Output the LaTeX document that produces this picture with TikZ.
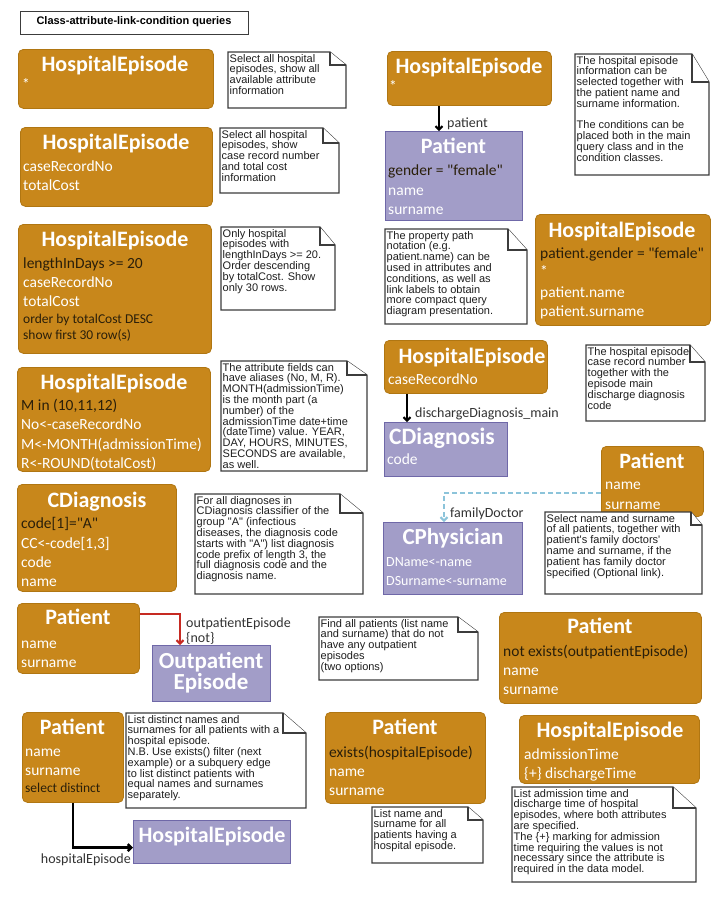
\documentclass[tikz,border=0pt]{standalone}
\usepackage{fontspec}
\setmainfont{Carlito}[Ligatures=TeXOff]
\newfontfamily\notefont{Liberation Sans}[Ligatures=TeXOff]
\usetikzlibrary{arrows.meta}
\definecolor{ofill}{HTML}{C8871B}
\definecolor{obord}{HTML}{B07612}
\definecolor{pfill}{HTML}{A29DC8}
\definecolor{pbord}{HTML}{6F68A8}
\definecolor{dtext}{HTML}{2A1F0A}
\definecolor{ntext}{HTML}{1E1E1E}
\definecolor{ngray}{HTML}{3C3C3C}
\definecolor{ltext}{HTML}{333333}
\definecolor{redl}{HTML}{C62A22}
\definecolor{bluel}{HTML}{8CC4DA}
\tikzset{
 ob/.style={draw=obord, fill=ofill, rounded corners=5pt, line width=0.8pt},
 pb/.style={draw=pbord, fill=pfill, line width=1.2pt},
 ttl/.style={inner sep=0pt, anchor=mid, yshift=-4.5pt, text=white, font=\fontsize{22}{22}\selectfont\bfseries},
 attr/.style={inner sep=0pt, anchor=mid west, yshift=-4pt, text=white, font=\fontsize{15.5}{16}\selectfont},
 cond/.style={attr, text=dtext},
 sm/.style={inner sep=0pt, anchor=mid west, yshift=-3.5pt, text=dtext, font=\fontsize{13.5}{14}\selectfont},
 lbl/.style={inner sep=0pt, anchor=mid west, yshift=-3pt, text=ltext, font=\fontsize{14}{14}\selectfont},
 notel/.style={draw=ngray, line width=1.1pt, fill=white, line join=miter},
 notetext/.style={inner sep=0pt, anchor=north west, align=left, text=ntext, font=\notefont\fontsize{11}{10.8}\selectfont},
 blk/.style={line width=2pt, draw=black, -{Straight Barb[length=3.5pt,width=7pt]}},
}
\newcommand\qbox[6]{\node[#1, anchor=north west, minimum width={#5-#3}, minimum height={#6-#4}, inner sep=0pt] (#2) at (#3,#4) {};}
\newcommand\qnote[8]{%
 \draw[notel] (#2,#3) -- ({#4-#6},#3) -- (#4,{#3+#7}) -- (#4,#5) -- (#2,#5) -- cycle;
 \draw[notel] ({#4-#6},#3) -- ({#4-#6},{#3+#7}) -- (#4,{#3+#7});
 \node[notetext] (#1) at ({#2+1.5},{#3+2}) {#8};}
\begin{document}
\begin{tikzpicture}[x=1pt,y=-1pt]
\fill[white] (0,0) rectangle (723,898);
\useasboundingbox (0,0) rectangle (723,898);
% title
\node[draw=ngray, line width=1.2pt, anchor=north west, minimum width=228, minimum height=23, inner sep=0pt] (tbox) at (20,11) {};
\node[inner sep=0pt, anchor=mid, yshift=-1pt, font=\notefont\bfseries\fontsize{11}{11}\selectfont] (ttext) at (134,21) {Class-attribute-link-condition queries};
% boxes
\qbox{ob}{b1}{18}{49}{213}{108}
\qbox{ob}{b2}{20}{127}{212}{206}
\qbox{ob}{b3}{18}{224}{211}{353}
\qbox{ob}{b4}{17}{367}{210}{471}
\qbox{ob}{b5}{17}{484}{176}{591}
\qbox{ob}{b6}{17}{603}{139}{673}
\qbox{pb}{op}{152}{645}{270}{701}
\qbox{ob}{b7}{499}{612}{701}{703}
\qbox{ob}{b8}{22}{712}{123}{802}
\qbox{pb}{he}{133}{820}{290}{863}
\qbox{ob}{b9}{325}{712}{485}{803}
\qbox{ob}{b10}{519}{715}{699}{783}
\qbox{ob}{r1}{387}{51}{551}{105}
\qbox{pb}{pat}{385}{131}{522}{220}
\qbox{ob}{r2}{535}{214}{710}{325}
\qbox{ob}{r3}{384}{340}{547}{393}
\qbox{pb}{cdg}{384}{422}{507}{476}
\qbox{ob}{r4}{601}{446}{703}{516}
\qbox{pb}{cph}{383}{522}{522}{594}
% box texts
\node[ttl] (b1t) at (115,65) {HospitalEpisode};
\node[attr] (b1a) at (22,83) {*};
\node[ttl] (b2t) at (116,143) {HospitalEpisode};
\node[attr] (b2a) at (23,165) {caseRecordNo};
\node[attr] (b2b) at (23,184) {totalCost};
\node[ttl] (b3t) at (115,240) {HospitalEpisode};
\node[cond] (b3a) at (23,262) {lengthInDays >= 20};
\node[attr] (b3b) at (23,281) {caseRecordNo};
\node[attr] (b3c) at (23,300) {totalCost};
\node[sm] (b3d) at (23,318) {order by totalCost DESC};
\node[sm] (b3e) at (23,334) {show first 30 row(s)};
\node[ttl] (b4t) at (114,383) {HospitalEpisode};
\node[cond] (b4a) at (21,404) {M in (10,11,12)};
\node[attr] (b4b) at (21,423) {No<-caseRecordNo};
\node[attr] (b4c) at (21,443) {M<-MONTH(admissionTime)};
\node[attr] (b4d) at (21,462) {R<-ROUND(totalCost)};
\node[ttl] (b5t) at (97,501) {CDiagnosis};
\node[cond] (b5a) at (21,522) {code[1]="A"};
\node[attr] (b5b) at (21,542) {CC<-code[1,3]};
\node[attr] (b5c) at (21,561) {code};
\node[attr] (b5d) at (21,580) {name};
\node[ttl] (b6t) at (78,618) {Patient};
\node[attr] (b6a) at (21,642) {name};
\node[attr] (b6b) at (21,661) {surname};
\node[ttl, font=\fontsize{23}{23}\selectfont\bfseries] (opt1) at (211,662) {Outpatient};
\node[ttl, font=\fontsize{23}{23}\selectfont\bfseries] (opt2) at (211,683) {Episode};
\node[ttl] (b7t) at (600,627) {Patient};
\node[cond] (b7a) at (503,650) {not exists(outpatientEpisode)};
\node[attr] (b7b) at (503,669) {name};
\node[attr] (b7c) at (503,688) {surname};
\node[ttl] (b8t) at (72.5,728) {Patient};
\node[attr] (b8a) at (25,750) {name};
\node[attr] (b8b) at (25,769) {surname};
\node[sm] (b8c) at (25,787) {select distinct};
\node[ttl] (het) at (212,836) {HospitalEpisode};
\node[ttl] (b9t) at (405,728) {Patient};
\node[cond] (b9a) at (329,751) {exists(hospitalEpisode)};
\node[attr] (b9b) at (329,770) {name};
\node[attr] (b9c) at (329,789) {surname};
\node[ttl] (b10t) at (610,731) {HospitalEpisode};
\node[attr] (b10a) at (524,753) {admissionTime};
\node[attr] (b10b) at (524,772) {\{+\} dischargeTime};
\node[ttl] (r1t) at (469,67) {HospitalEpisode};
\node[attr] (r1a) at (389,85) {*};
\node[ttl] (patt) at (453.5,147) {Patient};
\node[cond] (pata) at (388,169) {gender = "female"};
\node[attr] (patb) at (388,189) {name};
\node[attr] (patc) at (388,208) {surname};
\node[ttl] (r2t) at (622,231) {HospitalEpisode};
\node[cond] (r2a) at (540,252) {patient.gender = "female"};
\node[attr] (r2b) at (540,270) {*};
\node[attr] (r2c) at (540,291) {patient.name};
\node[attr] (r2d) at (540,310) {patient.surname};
\node[ttl] (r3t) at (472,357) {HospitalEpisode};
\node[attr] (r3a) at (388,378) {caseRecordNo};
\node[ttl, font=\fontsize{23.5}{24}\selectfont\bfseries] (cdgt) at (442,438) {CDiagnosis};
\node[attr] (cdga) at (387,458) {code};
\node[ttl] (r4t) at (652,462) {Patient};
\node[attr] (r4a) at (605,483) {name};
\node[attr] (r4b) at (605,503) {surname};
\node[ttl, font=\fontsize{23}{23}\selectfont\bfseries] (cpht) at (453,538) {CPhysician};
\node[attr, font=\fontsize{14}{14}\selectfont] (cpha) at (386,560) {DName<-name};
\node[attr, font=\fontsize{14}{14}\selectfont] (cphb) at (386,579) {DSurname<-surname};
% connectors
\draw[blk] ([xshift=52pt]r1.south west) -- ([xshift=54pt]pat.north west);
\node[lbl] (l1) at (447,122) {patient};
\draw[blk] ([xshift=23pt]r3.south west) -- ([xshift=23pt]cdg.north west);
\node[lbl] (l2) at (415,412) {dischargeDiagnosis\_main};
\draw[blk, draw=bluel, dash pattern=on 5pt off 3pt] ([yshift=-12pt]r4.west) -| ([xshift=61pt]cph.north west);
\node[lbl] (l3) at (450,512) {familyDoctor};
\draw[blk, draw=redl] ([yshift=24pt]b6.east) -| ([xshift=28pt]op.north west);
\node[lbl] (l4) at (186,622) {outpatientEpisode};
\node[lbl] (l5) at (186,637) {\{not\}};
\draw[blk, line width=2.5pt] (b8.south) |- ([yshift=-5.5pt]he.west);
\node[lbl, anchor=mid east] (l6) at (131,858) {hospitalEpisode};
% notes
\qnote{n1}{228}{52}{346}{108}{16}{13}{Select all hospital\\episodes, show all\\available attribute\\information}
\qnote{n2}{220}{128}{339}{193}{16}{15}{Select all hospital\\episodes, show\\case record number\\and total cost\\information}
\qnote{n3}{221}{227}{335}{310}{15}{18}{Only hospital\\episodes with\\lengthInDays >= 20.\\Order descending\\by totalCost. Show\\only 30 rows.}
\qnote{n4}{221}{361}{367}{471}{20}{14}{The attribute fields can\\have aliases (No, M, R).\\MONTH(admissionTime)\\is the month part (a\\number) of the\\admissionTime date+time\\(dateTime) value. YEAR,\\DAY, HOURS, MINUTES,\\SECONDS are available,\\as well.}
\qnote{n5}{195}{494}{363}{594}{23}{19}{For all diagnoses in\\CDiagnosis classifier of the\\group "A" (infectious\\diseases, the diagnosis code\\starts with "A") list diagnosis\\code prefix of length 3, the\\full diagnosis code and the\\diagnosis name.}
\qnote{n6}{319}{617}{478}{680}{20}{15}{Find all patients (list name\\and surname) that do not\\have any outpatient\\episodes\\(two options)}
\qnote{n8}{126}{713}{306}{808}{23}{20}{List distinct names and\\surnames for all patients with a\\hospital episode.\\N.B. Use exists() filter (next\\example) or a subquery edge\\to list distinct patients with\\equal names and surnames\\separately.}
\qnote{n9}{372}{807}{483}{863}{15}{13}{List name and\\surname for all\\patients having a\\hospital episode.}
\qnote{n10}{512}{787}{696}{882}{23}{21}{List admission time and\\discharge time of hospital\\episodes, where both attributes\\are specified.\\The \{+\} marking for admission\\time requiring the values is not\\necessary since the attribute is\\required in the data model.}
\qnote{nr1}{575}{54}{709}{175}{17}{28}{The hospital episode\\information can be\\selected together with\\the patient name and\\surname information.\\[10.8pt]The conditions can be\\placed both in the main\\query class and in the\\condition classes.}
\qnote{nr2}{385}{229}{527}{324}{19}{21}{The property path\\notation (e.g.\\patient.name) can be\\used in attributes and\\conditions, as well as\\link labels to obtain\\more compact query\\diagram presentation.}
\qnote{nr3}{586}{345}{705}{421}{15}{17}{The hospital episode\\case record number\\together with the\\episode main\\discharge diagnosis\\code}
\qnote{nr4}{545}{512}{702}{594}{11}{13}{Select name and surname\\of all patients, together with\\patient's family doctors'\\name and surname, if the\\patient has family doctor\\specified (Optional link).}
\end{tikzpicture}
\end{document}
